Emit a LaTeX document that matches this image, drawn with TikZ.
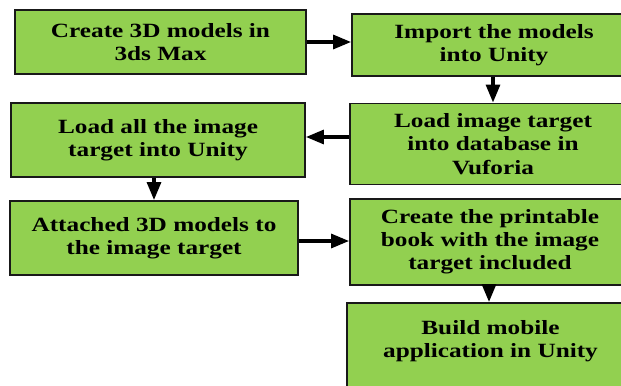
\documentclass[tikz,border=0pt]{standalone}
\usepackage{fontspec}
\setmainfont{Liberation Serif}[FakeStretch=1.25]
\usepackage{tikz}
\usetikzlibrary{arrows.meta,positioning}
\definecolor{boxgreen}{HTML}{92D050}
\begin{document}
\begin{tikzpicture}[x=0.02cm, y=-0.02cm,
		stepbox/.style={rectangle, draw=black!90, line width=1.1pt, fill=boxgreen, align=center,
			font=\fontsize{11.5}{13.2}\selectfont\bfseries, inner sep=2pt},
		flow/.style={-{Triangle[length=0.36cm, width=0.28cm]}, line width=1.8pt, black},
		]
	
		% Rahmen
		\clip (0,0) rectangle (621,385);
	
		% Arbeitsschritte
		\node[stepbox, minimum width=5.82cm, minimum height=1.28cm] (B1) at (160.5, 42) {Create 3D models in\\3ds Max};
		\node[stepbox, minimum width=5.68cm, minimum height=1.24cm] (B2) at (494, 45) {Import the models\\into Unity};
		\node[stepbox, minimum width=5.72cm, minimum height=1.62cm] (B3) at (493, 144) {Load image target\\into database in\\Vuforia};
		\node[stepbox, minimum width=5.88cm, minimum height=1.48cm] (B4) at (158, 140) {Load all the image\\target into Unity};
		\node[stepbox, minimum width=5.76cm, minimum height=1.48cm] (B5) at (154, 238) {Attached 3D models to\\the image target};
		\node[stepbox, minimum width=5.60cm, minimum height=1.72cm] (B6) at (490, 242) {Create the printable\\book with the image\\target included};
		\node[stepbox, minimum width=5.74cm, minimum height=2.2cm, text depth=0.75cm, anchor=north] (B7) at (490.5, 302) {Build mobile\\application in Unity};
	
		% Pfeile
		\draw[flow] (B1.east |- 0,42) -- (B2.west |- 0,42);
		\draw[flow] (B2.south -| 493,0) -- (B3.north -| 493,0);
		\draw[flow] (B3.west |- 0,137) -- (B4.east |- 0,137);
		\draw[flow] (B4.south -| 154,0) -- (B5.north -| 154,0);
		\draw[flow] (B5.east |- 0,241) -- (B6.west |- 0,241);
		\draw[flow] (B6.south -| 489,0) -- (B7.north -| 489,0);
	\end{tikzpicture}
\end{document}
